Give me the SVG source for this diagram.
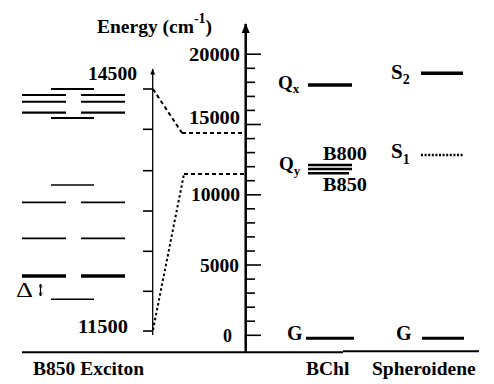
<svg xmlns="http://www.w3.org/2000/svg" width="494" height="384" viewBox="0 0 494 384" font-family="'Liberation Serif', 'Times New Roman', 'DejaVu Serif', serif">
<style>
text{font-family:'Liberation Serif','Times New Roman','DejaVu Serif',serif;font-weight:bold;fill:#000}
.lbl{font-size:19.5px}
.num{font-size:18px}
.lev{stroke:#000;fill:none}
.tk{stroke:#000;stroke-width:1.6}
.dash{stroke:#000;fill:none;stroke-width:2}
</style>
<defs>
<marker id="ah" viewBox="0 0 10 10" refX="9" refY="5" markerWidth="10" markerHeight="10" markerUnits="userSpaceOnUse" orient="auto"><path d="M0,1 L10,5 L0,9 Z" fill="#000"/></marker>
<marker id="ahs" viewBox="0 0 10 10" refX="9" refY="5" markerWidth="7" markerHeight="6" markerUnits="userSpaceOnUse" orient="auto"><path d="M0,1 L10,5 L0,9 Z" fill="#000"/></marker>
<marker id="ahd" viewBox="0 0 10 10" refX="9" refY="5" markerWidth="4" markerHeight="4" markerUnits="userSpaceOnUse" orient="auto-start-reverse"><path d="M0,1 L10,5 L0,9" fill="none" stroke="#000" stroke-width="2"/></marker>
</defs>

<g id="title">
<text class="lbl" x="97" y="33">Energy (cm<tspan font-size="14" dy="-10">-1</tspan><tspan dy="10">)</tspan></text>
</g>

<g id="baseline">
<line x1="22" y1="352.3" x2="343" y2="352.3" stroke="#000" stroke-width="2"/>
<line x1="343" y1="351.2" x2="479" y2="351.2" stroke="#000" stroke-width="2"/>
<text class="lbl" x="33" y="375">B850 Exciton</text>
<text class="lbl" x="306" y="375">BChl</text>
<text class="lbl" x="372" y="375">Spheroidene</text>
</g>

<g id="main-axis">
<line x1="245.7" y1="352" x2="245.7" y2="24" stroke="#000" stroke-width="2.5" marker-end="url(#ah)"/>
<g class="tk">
<line x1="245.7" y1="335.3" x2="261" y2="335.3"/>
<line x1="245.7" y1="321.2" x2="255" y2="321.2"/>
<line x1="245.7" y1="307.2" x2="255" y2="307.2"/>
<line x1="245.7" y1="293.1" x2="255" y2="293.1"/>
<line x1="245.7" y1="279.1" x2="255" y2="279.1"/>
<line x1="245.7" y1="265.0" x2="261" y2="265.0"/>
<line x1="245.7" y1="251.0" x2="255" y2="251.0"/>
<line x1="245.7" y1="236.9" x2="255" y2="236.9"/>
<line x1="245.7" y1="222.9" x2="255" y2="222.9"/>
<line x1="245.7" y1="208.8" x2="255" y2="208.8"/>
<line x1="245.7" y1="194.8" x2="261" y2="194.8"/>
<line x1="245.7" y1="180.7" x2="255" y2="180.7"/>
<line x1="245.7" y1="166.7" x2="255" y2="166.7"/>
<line x1="245.7" y1="152.6" x2="255" y2="152.6"/>
<line x1="245.7" y1="138.6" x2="255" y2="138.6"/>
<line x1="245.7" y1="124.5" x2="261" y2="124.5"/>
<line x1="245.7" y1="110.4" x2="255" y2="110.4"/>
<line x1="245.7" y1="96.4" x2="255" y2="96.4"/>
<line x1="245.7" y1="82.3" x2="255" y2="82.3"/>
<line x1="245.7" y1="68.3" x2="255" y2="68.3"/>
<line x1="245.7" y1="54.2" x2="261" y2="54.2"/>
</g>
<g class="num" text-anchor="end">
<text class="num" x="240" y="61" textLength="51" lengthAdjust="spacingAndGlyphs">20000</text>
<text class="num" x="240" y="124" textLength="51" lengthAdjust="spacingAndGlyphs">15000</text>
<text class="num" x="240" y="201" textLength="49" lengthAdjust="spacingAndGlyphs">10000</text>
<text class="num" x="239" y="271.5" textLength="39" lengthAdjust="spacingAndGlyphs">5000</text>
<text class="num" x="232" y="342" textLength="9" lengthAdjust="spacingAndGlyphs">0</text>
</g>
</g>

<g id="exciton-axis">
<line x1="152.7" y1="335" x2="152.7" y2="69" stroke="#000" stroke-width="1.3" marker-end="url(#ahs)"/>
<g class="tk" stroke-width="1.3">
<line x1="143" y1="89" x2="152.7" y2="89"/>
<line x1="143" y1="129.3" x2="152.7" y2="129.3"/>
<line x1="143" y1="170.7" x2="152.7" y2="170.7"/>
<line x1="143" y1="211" x2="152.7" y2="211"/>
<line x1="143" y1="251.3" x2="152.7" y2="251.3"/>
<line x1="143" y1="291.3" x2="152.7" y2="291.3"/>
<line x1="143" y1="331" x2="152.7" y2="331"/>
</g>
<text class="num" x="137" y="80" text-anchor="end" textLength="49" lengthAdjust="spacingAndGlyphs">14500</text>
<text class="num" x="128" y="333" text-anchor="end" textLength="50" lengthAdjust="spacingAndGlyphs">11500</text>
</g>

<g id="b850-exciton-levels" class="lev">
<line x1="51" y1="89" x2="94" y2="89" stroke-width="1.8"/>
<line x1="22" y1="95" x2="66" y2="95" stroke-width="2"/>
<line x1="81" y1="95" x2="125" y2="95" stroke-width="2"/>
<line x1="22" y1="101.7" x2="66" y2="101.7" stroke-width="2"/>
<line x1="81" y1="101.7" x2="125" y2="101.7" stroke-width="2"/>
<line x1="22" y1="112.7" x2="66" y2="112.7" stroke-width="2.2"/>
<line x1="81" y1="112.7" x2="125" y2="112.7" stroke-width="2.2"/>
<line x1="51" y1="118" x2="94" y2="118" stroke-width="1.8"/>
<line x1="51" y1="185" x2="94" y2="185" stroke-width="1.6"/>
<line x1="22" y1="202.3" x2="66" y2="202.3" stroke-width="1.8"/>
<line x1="81" y1="202.3" x2="125" y2="202.3" stroke-width="1.8"/>
<line x1="22" y1="238.3" x2="66" y2="238.3" stroke-width="1.8"/>
<line x1="81" y1="238.3" x2="125" y2="238.3" stroke-width="1.8"/>
<line x1="22" y1="276" x2="66" y2="276" stroke-width="3.6"/>
<line x1="81" y1="276" x2="125" y2="276" stroke-width="3.6"/>
<line x1="51" y1="299.3" x2="94" y2="299.3" stroke-width="1.6"/>
</g>

<g id="delta">
<text x="16" y="297" font-size="20" style="font-weight:normal" textLength="17" lengthAdjust="spacingAndGlyphs">Δ</text>
<line x1="40.5" y1="284" x2="40.5" y2="296" stroke="#000" stroke-width="1.2" marker-start="url(#ahd)" marker-end="url(#ahd)"/>
</g>

<g id="connectors">
<path class="dash" d="M153,89 L182,133" stroke-dasharray="4,3"/>
<path class="dash" d="M182,133 H245" stroke-dasharray="4,3"/>
<path class="dash" d="M153,330 L184,174" stroke-dasharray="2.5,2.5" stroke-width="2.2"/>
<path class="dash" d="M184,174 H245" stroke-dasharray="4,3"/>
</g>

<g id="bchl-Qx">
<text x="278" y="89" font-size="19">Q<tspan font-size="13" dy="4">x</tspan></text>
<line x1="308" y1="85" x2="352" y2="85" stroke="#000" stroke-width="3.5"/>
</g>

<g id="bchl-Qy">
<text x="279" y="170" font-size="19">Q<tspan font-size="13" dy="5">y</tspan></text>
<line x1="308" y1="165" x2="352" y2="165" stroke="#000" stroke-width="2.5"/>
<line x1="308" y1="169" x2="352" y2="169" stroke="#000" stroke-width="2.5"/>
<line x1="308" y1="173.3" x2="349" y2="173.3" stroke="#000" stroke-width="2.5"/>
<text x="323" y="159.5" font-size="19" textLength="44" lengthAdjust="spacingAndGlyphs">B800</text>
<text x="323" y="191" font-size="19" textLength="44" lengthAdjust="spacingAndGlyphs">B850</text>
</g>

<g id="bchl-G">
<text x="287" y="339.5" font-size="20">G</text>
<line x1="306" y1="338.3" x2="354" y2="338.3" stroke="#000" stroke-width="3"/>
</g>

<g id="spheroidene-S2">
<text x="391" y="79" font-size="21">S<tspan font-size="14" dy="5">2</tspan></text>
<line x1="421" y1="73.3" x2="463" y2="73.3" stroke="#000" stroke-width="3.5"/>
</g>

<g id="spheroidene-S1">
<text x="391" y="158" font-size="21">S<tspan font-size="14" dy="6">1</tspan></text>
<line x1="421" y1="155" x2="463" y2="155" stroke="#000" stroke-width="2.5" stroke-dasharray="2,1.6"/>
</g>

<g id="spheroidene-G">
<text x="396" y="339.5" font-size="20">G</text>
<line x1="422" y1="338.3" x2="464" y2="338.3" stroke="#000" stroke-width="3"/>
</g>
</svg>
